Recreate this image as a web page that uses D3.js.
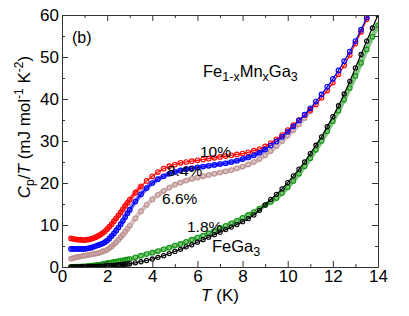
<!DOCTYPE html>
<html>
<head>
<meta charset="utf-8">
<script src="https://cdn.jsdelivr.net/npm/d3@7"></script>
<style>
  body { margin: 0; background: #fff; }
  svg { display: block; font-family: "Liberation Sans", Arial, sans-serif; }
  .axis path, .axis line { stroke: #333; }
  .axis text { fill: #000; font-size: 17px; font-family: "Liberation Sans", Arial, sans-serif; }
</style>
</head>
<body>
<svg id="chart" width="409" height="316"></svg>
<script>
// temperature grid (K), shared by all series
const temps = [0.4,0.5,0.6,0.7,0.8,0.9,1.0,1.1,1.2,1.3,1.4,1.5,1.6,1.7,1.8,1.9,2.0,2.1,2.2,2.3,2.4,2.5,2.6,2.7,2.8,2.9,3.0,
  3.25,3.5,3.75,4.0,4.25,4.5,4.75,5.0,5.25,5.5,5.75,6.0,6.25,6.5,6.75,7.0,7.25,7.5,7.75,8.0,8.25,8.5,8.75,9.0,9.25,9.5,9.75,
  10.0,10.25,10.5,10.75,11.0,11.25,11.5,11.75,12.0,12.25,12.5,12.75,13.0,13.25,13.5,13.75,14.0];

// Cp/T (mJ mol^-1 K^-2)
const mn10 = [6.8,6.7,6.6,6.5,6.5,6.4,6.4,6.5,6.6,6.7,6.9,7.1,7.4,7.7,8.1,8.5,9.0,9.6,10.2,10.9,11.6,12.3,13.0,13.8,14.6,15.3,16.0,
  17.7,19.2,20.5,21.6,22.6,23.4,24.0,24.4,24.8,25.0,25.2,25.4,25.6,25.8,26.0,26.2,26.4,26.6,26.8,27.0,27.3,27.7,28.1,28.7,29.5,30.4,31.4,
  32.6,33.8,35.0,36.2,37.4,38.7,40.3,42.0,43.9,45.9,48.0,50.5,53.2,56.0,59.0,62.0,null];
const mn84 = [4.3,4.3,4.3,4.3,4.3,4.3,4.3,4.4,4.5,4.6,4.8,5.0,5.2,5.4,5.6,5.9,6.3,6.8,7.4,8.0,8.7,9.4,10.2,11.0,11.9,12.8,13.6,
  15.6,17.3,18.8,20.0,20.9,21.6,22.2,22.6,23.0,23.3,23.5,23.7,23.9,24.1,24.3,24.5,24.7,25.0,25.3,25.7,26.1,26.6,27.2,28.0,28.9,29.9,31.0,
  32.2,33.5,34.9,36.3,37.8,39.4,41.1,42.9,44.8,46.8,49.0,51.3,53.8,56.5,59.4,62.5,null];
const mn66 = [2.0,2.1,2.3,2.4,2.5,2.6,2.7,2.8,2.9,3.0,3.1,3.2,3.3,3.5,3.7,3.9,4.1,4.5,4.9,5.4,5.9,6.5,7.1,7.7,8.4,9.1,9.8,
  11.6,13.3,14.8,16.1,17.2,18.1,18.9,19.6,20.1,20.6,21.0,21.3,21.6,21.9,22.2,22.5,22.8,23.1,23.5,23.9,24.4,25.0,25.7,26.6,27.6,28.8,30.0,
  31.3,32.6,34.0,35.5,37.1,null,null,null,null,null,null,null,null,null,null,null,null];
const mn18 = [0.05,0.06,0.08,0.1,0.12,0.15,0.18,0.22,0.27,0.32,0.38,0.45,0.52,0.6,0.7,0.8,0.9,1.0,1.1,1.2,1.3,1.4,1.5,1.6,1.7,1.8,1.9,
  2.3,2.7,3.1,3.4,3.8,4.2,4.6,5.1,5.5,6.0,6.5,7.0,7.5,8.0,8.6,9.2,9.8,10.4,11.0,11.7,12.4,13.1,13.9,14.7,15.5,16.4,17.6,
  19.0,20.5,22.2,24.0,25.9,27.9,30.0,32.3,34.7,37.2,39.8,42.6,45.5,48.6,51.8,54.8,57.6];
const feGa3 = [0.02,0.02,0.03,0.04,0.05,0.06,0.07,0.08,0.1,0.12,0.14,0.16,0.18,0.2,0.23,0.26,0.3,0.33,0.37,0.41,0.45,0.5,0.55,0.6,0.66,0.72,0.8,
  1.0,1.25,1.55,1.9,2.3,2.7,3.2,3.7,4.2,4.8,5.3,5.9,6.5,7.1,7.7,8.3,8.9,9.5,10.1,10.8,11.5,12.4,13.5,14.8,16.1,17.3,18.6,
  20.1,21.7,23.3,25.0,27.0,29.0,31.0,33.4,35.8,38.4,41.2,44.2,47.4,50.6,53.8,56.9,60.0];

const xTicks = [0,2,4,6,8,10,12,14];
const yTicks = [0,10,20,30,40,50,60];

// bandMax: up to which T the measured points are so dense they form a band
const series = [
  { key: "6.6%", values: mn66, color: "#bc8f8f", r: 2.3, line: false, bandMax: 11 },
  { key: "10%", values: mn10, color: "#ff0000", r: 2.3, line: true, bandMax: 3.5 },
  { key: "8.4%", values: mn84, color: "#0000ff", r: 2.3, line: true, bandMax: 9 },
  { key: "1.8%", values: mn18, color: "#129412", r: 2.3, line: false, bandMax: 14 },
  { key: "FeGa3", values: feGa3, color: "#000000", r: 2.1, line: true, bandMax: 1.5 },
];

const svg = d3.select("#chart");
const m = { left: 62, right: 31, top: 15, bottom: 49 };
const W = 409 - m.left - m.right, H = 316 - m.top - m.bottom;

const x = d3.scaleLinear().domain([0, 14]).range([0, W]);
const y = d3.scaleLinear().domain([0, 60]).range([H, 0]);

const g = svg.append("g").attr("transform", `translate(${m.left},${m.top})`);

g.append("defs").append("clipPath").attr("id", "clip")
  .append("rect").attr("width", W).attr("height", H);

const plot = g.append("g").attr("clip-path", "url(#clip)");
const lineGen = d3.line().x(d => x(d[0])).y(d => y(d[1])).curve(d3.curveMonotoneX);

series.forEach(s => {
  const pts = temps.map((t, i) => [t, s.values[i]]).filter(d => d[1] != null);
  const sg = plot.append("g");
  sg.append("path").datum(pts.filter(d => d[0] <= s.bandMax)).attr("d", lineGen)
    .attr("fill", "none").attr("stroke", s.color).attr("stroke-width", 4.5)
    .attr("stroke-linecap", "round").attr("opacity", 0.55);
  sg.selectAll("circle").data(pts).join("circle")
    .attr("cx", d => x(d[0])).attr("cy", d => y(d[1])).attr("r", s.r)
    .attr("fill", "none").attr("stroke", s.color).attr("stroke-width", 1.1);
  if (s.line) {
    sg.append("path").datum(pts).attr("d", lineGen)
      .attr("fill", "none").attr("stroke", s.color).attr("stroke-width", 1.2);
  }
});

// axes: ticks point inward, mirrored on top and right
const minorX = d3.range(1, 14, 2), minorY = d3.range(5, 60, 10);
function addAxis(axisFn, scale, major, minor, transform, labels) {
  g.append("g").attr("class", "axis").attr("transform", transform)
    .call(axisFn(scale).tickValues(major).tickSizeInner(-6).tickSizeOuter(0).tickPadding(3)
      .tickFormat(labels ? d3.format("d") : ""));
  g.append("g").attr("class", "axis").attr("transform", transform)
    .call(axisFn(scale).tickValues(minor).tickSizeInner(-3).tickSizeOuter(0).tickFormat(""))
    .select(".domain").remove();
}
addAxis(d3.axisBottom, x, xTicks, minorX, `translate(0,${H})`, true);
addAxis(d3.axisTop, x, xTicks, minorX, "translate(0,0)", false);
addAxis(d3.axisLeft, y, yTicks, minorY, "translate(0,0)", true);
addAxis(d3.axisRight, y, yTicks, minorY, `translate(${W},0)`, false);

// axis titles
const xt = svg.append("text").attr("x", m.left + W / 2).attr("y", 301)
  .attr("text-anchor", "middle").attr("font-size", 17);
xt.append("tspan").attr("font-style", "italic").text("T");
xt.append("tspan").text(" (K)");

const yt = svg.append("text").attr("transform", `translate(30,${m.top + 112}) rotate(-90)`)
  .attr("text-anchor", "middle").attr("font-size", 17);
yt.append("tspan").attr("font-style", "italic").text("C");
yt.append("tspan").attr("font-size", 12).attr("dy", 4).text("p");
yt.append("tspan").attr("dy", -4).text("/");
yt.append("tspan").attr("font-style", "italic").text("T");
yt.append("tspan").text(" (mJ mol");
yt.append("tspan").attr("font-size", 12).attr("dy", -7).text("-1");
yt.append("tspan").attr("dy", 7).text(" K");
yt.append("tspan").attr("font-size", 12).attr("dy", -7).text("-2");
yt.append("tspan").attr("dy", 7).text(")");

// annotations
svg.append("text").attr("x", 72).attr("y", 43).attr("font-size", 16).text("(b)");

const ft = svg.append("text").attr("x", 203).attr("y", 77).attr("font-size", 16.5);
ft.append("tspan").text("Fe");
ft.append("tspan").attr("font-size", 12.5).attr("dy", 4).text("1-x");
ft.append("tspan").attr("dy", -4).text("Mn");
ft.append("tspan").attr("font-size", 12.5).attr("dy", 4).text("x");
ft.append("tspan").attr("dy", -4).text("Ga");
ft.append("tspan").attr("font-size", 12.5).attr("dy", 4).text("3");

const labels = [
  { text: "10%", x: 200, y: 157 },
  { text: "8.4%", x: 167, y: 176 },
  { text: "6.6%", x: 162, y: 204 },
  { text: "1.8%", x: 187, y: 232 },
];
svg.selectAll(".lab").data(labels).join("text").attr("class", "lab")
  .attr("x", d => d.x).attr("y", d => d.y).attr("font-size", 15.5).text(d => d.text);

const fg = svg.append("text").attr("x", 212).attr("y", 252).attr("font-size", 16.5);
fg.append("tspan").text("FeGa");
fg.append("tspan").attr("font-size", 12.5).attr("dy", 4).text("3");
</script>
</body>
</html>
